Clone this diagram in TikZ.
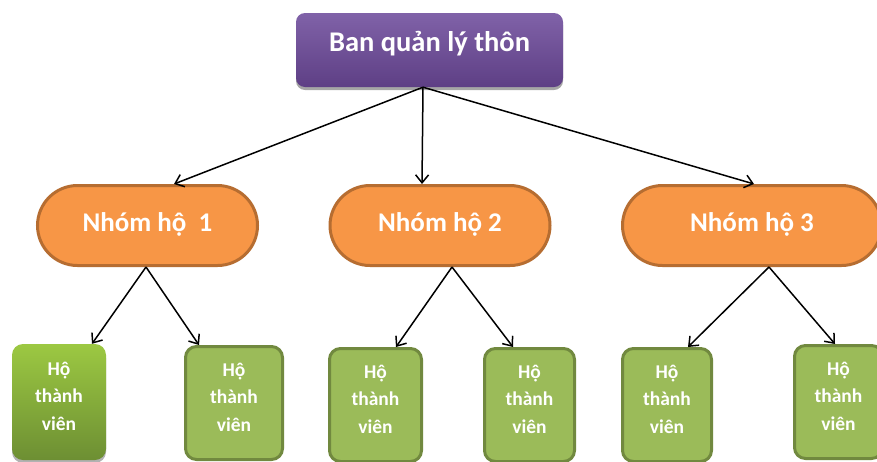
\documentclass[tikz,border=0pt]{standalone}
\usepackage{fontspec}
\setmainfont{Carlito}
\usetikzlibrary{arrows.meta,shapes.misc,shadows}
\definecolor{purpT}{HTML}{8062A8}
\definecolor{purpB}{HTML}{5E3F85}
\definecolor{orgF}{HTML}{F79646}
\definecolor{orgD}{HTML}{B66D31}
\definecolor{grnF}{HTML}{9BBB59}
\definecolor{grnD}{HTML}{71893F}
\definecolor{grnT}{HTML}{9CC842}
\definecolor{grnB}{HTML}{6D8F33}
\begin{document}
\begin{tikzpicture}[x=1pt,y=-1pt,
  topbox/.style={rectangle, rounded corners=9pt, minimum width=267pt, minimum height=74pt,
    inner sep=0pt, top color=purpT, bottom color=purpB, draw=none, text=white,
    font=\fontsize{28.5}{34}\selectfont\bfseries, text height=20pt, text depth=18pt,
    drop shadow={shadow xshift=0pt, shadow yshift=-3pt, opacity=0.35, fill=black}},
  grpbox/.style={rounded rectangle, minimum height=80pt, inner sep=0pt, fill=orgF,
    draw=orgD, line width=3pt, text=white, font=\fontsize{27}{32}\selectfont\bfseries,
    text height=20pt, text depth=8pt},
  memb/.style={rectangle, rounded corners=11pt, inner sep=0pt, fill=grnF, draw=grnD,
    line width=3pt, minimum height=113pt},
  membgrad/.style={rectangle, rounded corners=11pt, inner sep=0pt, top color=grnT,
    bottom color=grnB, draw=none, minimum height=116pt,
    drop shadow={shadow xshift=0pt, shadow yshift=-3pt, opacity=0.3, fill=black}},
  membtext/.style={text=white, font=\fontsize{19.5}{27.5}\selectfont\bfseries, align=center},
  conn/.style={line width=1.5pt, -{Straight Barb[length=8pt,width=13pt]}}
]
\useasboundingbox (0,0) rectangle (877,461);
\clip (0,0) rectangle (877,461);
\fill[white] (0,0) rectangle (877,461);

\node[topbox] (top) at (429.5,50) {Ban quản lý thôn};

\node[grpbox, minimum width=220pt] (g1) at (147.5,225.5) {Nhóm hộ\ \ 1};
\node[grpbox, minimum width=220pt] (g2) at (440,225.5) {Nhóm hộ 2};
\node[grpbox, minimum width=259pt] (g3) at (752,225.5) {Nhóm hộ 3};

\node[membgrad, minimum width=94pt, label={[membtext,yshift=6pt]center:{Hộ\\thành\\viên}}] (m1) at (59,402) {};
\node[memb, minimum width=97pt, label={[membtext,yshift=6pt]center:{Hộ\\thành\\viên}}] (m2) at (234,403) {};
\node[memb, minimum width=92pt, label={[membtext,yshift=6pt]center:{Hộ\\thành\\viên}}] (m3) at (375.5,405) {};
\node[memb, minimum width=90pt, label={[membtext,yshift=6pt]center:{Hộ\\thành\\viên}}] (m4) at (529.5,405) {};
\node[memb, minimum width=89pt, label={[membtext,yshift=6pt]center:{Hộ\\thành\\viên}}] (m5) at (667,405) {};
\node[memb, minimum width=88pt, label={[membtext,yshift=6pt]center:{Hộ\\thành\\viên}}] (m6) at (838.5,402) {};

\draw[conn] ([xshift=-6.5pt]top.south) -- ([xshift=26.5pt]g1.north);
\draw[conn] ([xshift=-6.5pt]top.south) -- ([xshift=-18pt]g2.north);
\draw[conn] ([xshift=-6.5pt]top.south) -- ([xshift=2pt]g3.north);

\draw[conn] ([xshift=-1.5pt]g1.south) -- ([xshift=33pt]m1.north);
\draw[conn] ([xshift=-1.5pt]g1.south) -- ([xshift=-35pt]m2.north);
\draw[conn] ([xshift=12pt]g2.south) -- ([xshift=20.5pt]m3.north);
\draw[conn] ([xshift=12pt]g2.south) -- ([xshift=-16.5pt]m4.north);
\draw[conn] ([xshift=17pt]g3.south) -- ([xshift=21pt]m5.north);
\draw[conn] ([xshift=17pt]g3.south) -- ([xshift=-3.5pt]m6.north);
\end{tikzpicture}
\end{document}
